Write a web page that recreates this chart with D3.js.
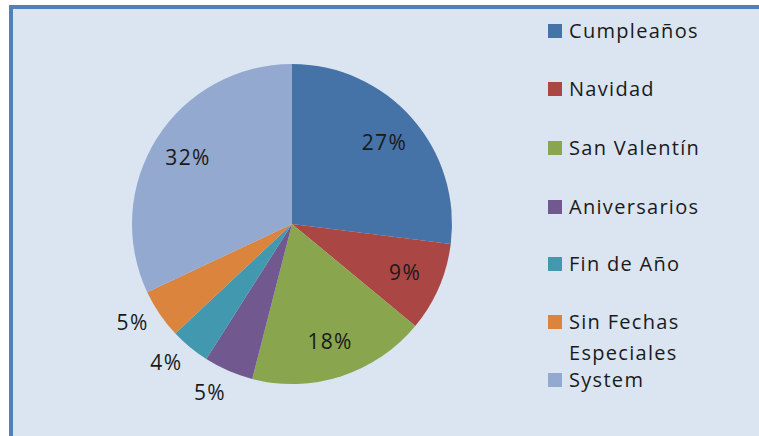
<!DOCTYPE html>
<html lang="es">
<head>
  <meta charset="utf-8">
  <script src="https://d3js.org/d3.v7.min.js"></script>
  <style>
    body { margin: 0; background: #ffffff; }
    text { font-family: "Open Sans", Lato, sans-serif; fill: #1a1a1a; letter-spacing: 1.3px; }
  </style>
</head>
<body>
  <div id="chart"></div>
  <script>
    // data
    const categories = ["Cumpleaños", "Navidad", "San Valentín", "Aniversarios", "Fin de Año", "Sin Fechas Especiales", "System"];
    const values = [27, 9, 18, 5, 4, 5, 32];
    const colors = ["#4572a7", "#aa4643", "#89a54e", "#71588f", "#4198af", "#db843d", "#93a9cf"];

    const width = 759, height = 436;
    const cx = 292, cy = 224, radius = 160;

    const svg = d3.select("#chart")
      .append("svg")
        .attr("width", width)
        .attr("height", height);

    // chart area with blue border on top and left
    svg.append("rect")
      .attr("x", 11)
      .attr("y", 7)
      .attr("width", width)
      .attr("height", height)
      .attr("fill", "#dbe5f1")
      .attr("stroke", "#4f81bd")
      .attr("stroke-width", 4);

    const pie = d3.pie().sort(null).value(d => d);
    const arcs = pie(values);

    const arc = d3.arc().innerRadius(0).outerRadius(radius);
    const inLabel = d3.arc().innerRadius(radius * 0.77).outerRadius(radius * 0.77);
    const outLabel = d3.arc().innerRadius(radius * 1.17).outerRadius(radius * 1.17);

    const g = svg.append("g")
      .attr("transform", `translate(${cx},${cy})`);

    g.selectAll("path")
      .data(arcs)
      .join("path")
        .attr("d", arc)
        .attr("fill", (d, i) => colors[i]);

    // percentage labels: inside for big slices, outside for small ones
    g.selectAll("text")
      .data(arcs)
      .join("text")
        .attr("transform", d => {
          if (d.data >= 9) return `translate(${inLabel.centroid(d)})`;
          const a = (d.startAngle + d.endAngle) / 2 + 0.045;
          return `translate(${outLabel.centroid({startAngle: a, endAngle: a})})`;
        })
        .attr("text-anchor", "middle")
        .attr("dy", "0.35em")
        .style("font-size", "21px")
        .text(d => d.data + "%");

    // legend
    const legendY = [31, 89, 148, 207, 264, 322, 380];
    const legend = svg.append("g");
    categories.forEach((c, i) => {
      legend.append("rect")
        .attr("x", 548)
        .attr("y", legendY[i] - 7)
        .attr("width", 14)
        .attr("height", 14)
        .attr("fill", colors[i]);
      const words = c === "Sin Fechas Especiales" ? ["Sin Fechas", "Especiales"] : [c];
      words.forEach((w, j) => {
        legend.append("text")
          .attr("x", 569)
          .attr("y", legendY[i] + j * 31)
          .attr("dy", "0.35em")
          .style("font-size", "20px")
          .text(w);
      });
    });
  </script>
</body>
</html>
